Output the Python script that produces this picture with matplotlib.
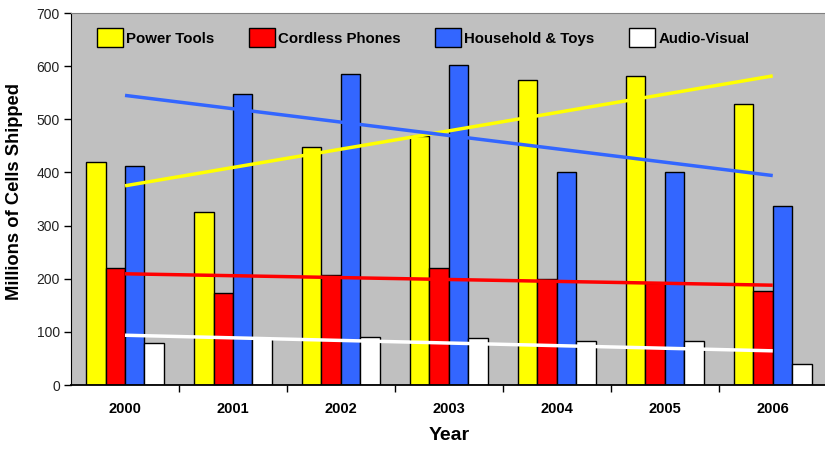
import numpy as np
import matplotlib.pyplot as plt
from matplotlib.ticker import FixedLocator

plt.rcParams['font.family'] = ['Liberation Sans', 'DejaVu Sans']

years = ["2000", "2001", "2002", "2003", "2004", "2005", "2006"]
powerTools = [420, 326, 448, 469, 574, 582, 529]
cordlessPhones = [220, 174, 207, 220, 200, 192, 177]
householdToys = [412, 548, 586, 602, 401, 401, 337]
audioVisual = [80, 88, 90, 89, 83, 83, 40]

seriesNames = ["Power Tools", "Cordless Phones", "Household & Toys", "Audio-Visual"]
seriesValues = [powerTools, cordlessPhones, householdToys, audioVisual]
seriesColors = ["#FFFF00", "#FF0000", "#3366FF", "#FFFFFF"]

fig = plt.figure(figsize=(8.25, 4.49), dpi=100)
ax = fig.add_axes([0.0861, 0.1425, 0.916, 0.8285])
ax.set_facecolor("#C0C0C0")

xc = np.arange(len(years))
barWidth = 0.18

for i in range(len(seriesNames)):
	offset = (i - 1.5) * barWidth
	ax.bar(xc + offset, seriesValues[i], barWidth, color=seriesColors[i],
		edgecolor="black", linewidth=1.0, label=seriesNames[i], zorder=2)

# linear trend lines, fitted across the years like a spreadsheet trendline
for i in range(len(seriesNames)):
	coeffs = np.polyfit(xc, seriesValues[i], 1)
	trend = np.polyval(coeffs, xc)
	ax.plot([xc[0], xc[-1]], [trend[0], trend[-1]], color=seriesColors[i],
		linewidth=2.5, zorder=3, solid_capstyle="butt")

ax.set_xlim(-0.5, len(years) - 0.5)
ax.set_ylim(0, 700)
ax.set_yticks(range(0, 701, 100))
ax.tick_params(axis="y", labelsize=10, labelcolor="#222222", length=5, width=1,
	direction="out", pad=3)

ax.set_xticks(xc)
ax.set_xticklabels(years, fontweight="bold", fontsize=10.5)
ax.tick_params(axis="x", which="major", length=0, pad=12)
ax.xaxis.set_minor_locator(FixedLocator(np.arange(0.5, len(years) - 1, 1.0)))
ax.tick_params(axis="x", which="minor", length=5, width=1, direction="out")

ax.spines["top"].set_color("#808080")
ax.spines["right"].set_visible(False)
ax.spines["left"].set_color("black")
ax.spines["bottom"].set_color("black")
ax.spines["bottom"].set_linewidth(1.3)

ax.set_ylabel("Millions of Cells Shipped", fontsize=13.2, fontweight="bold")
ax.yaxis.set_label_coords(-0.063, 0.52)
ax.set_xlabel("Year", fontsize=14, fontweight="bold", labelpad=8)

leg = ax.legend(loc="upper left", bbox_to_anchor=(0.026, 0.975), borderaxespad=0,
	ncol=4, frameon=False, prop={"weight": "bold", "size": 10.8},
	handlelength=1.75, handleheight=1.55, handletextpad=0.2, columnspacing=2.3)

fig.savefig("out.png", dpi=100)
